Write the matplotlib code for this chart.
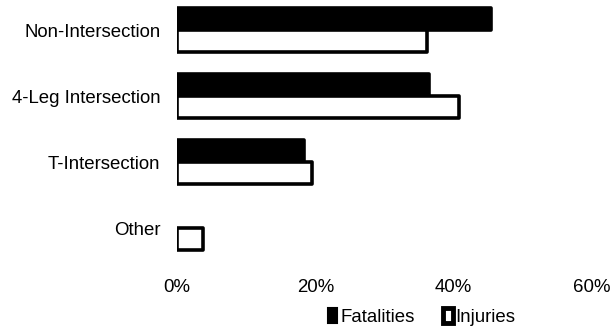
import numpy as np
import matplotlib.pyplot as plt
from matplotlib.patches import Patch

plt.rcParams['font.family'] = ['Liberation Sans', 'DejaVu Sans']

categories = ["Non-Intersection", "4-Leg Intersection", "T-Intersection", "Other"]
fatalities = [45.4, 36.4, 18.4, 0.0]
injuries = [36.2, 40.8, 19.5, 3.8]
xticks = [0, 20, 40, 60]
xtick_labels = ["0%", "20%", "40%", "60%"]

fig = plt.figure(figsize=(6.13, 3.29), dpi=100)
ax = fig.add_axes([0.2887, 0.2036, 0.677, 0.7964])

y = np.arange(len(categories))[::-1]
h = 0.33
lw = 2.6
b1 = ax.barh(y + h / 2, fatalities, height=h, color="black", edgecolor="black", linewidth=lw)
b2 = ax.barh(y - h / 2, injuries, height=h, color="white", edgecolor="black", linewidth=lw)
for bar in list(b1) + list(b2):
    bar.set_joinstyle("round")
    if bar.get_width() == 0:
        bar.set_visible(False)

fs = 13.4
ax.set_xlim(0, 60)
ax.set_ylim(-0.515, 3.455)
ax.set_xticks(xticks)
ax.set_xticklabels(xtick_labels, fontsize=fs)
ax.set_yticks(y)
ax.set_yticklabels(categories, fontsize=fs)
ax.tick_params(axis="both", length=0)
ax.tick_params(axis="y", pad=12)
ax.tick_params(axis="x", pad=12)
for s in ax.spines.values():
    s.set_visible(False)

handles = [Patch(facecolor="black", edgecolor="black", linewidth=1.5, joinstyle="round"),
           Patch(facecolor="white", edgecolor="black", linewidth=3.5, joinstyle="round")]
fig.legend(handles, ["Fatalities", "Injuries"], loc="center", bbox_to_anchor=(0.688, 0.037),
           ncol=2, frameon=False, fontsize=fs, handlelength=0.5, handleheight=0.9,
           handletextpad=0.15, columnspacing=1.55)

fig.savefig("out.png", dpi=100)
